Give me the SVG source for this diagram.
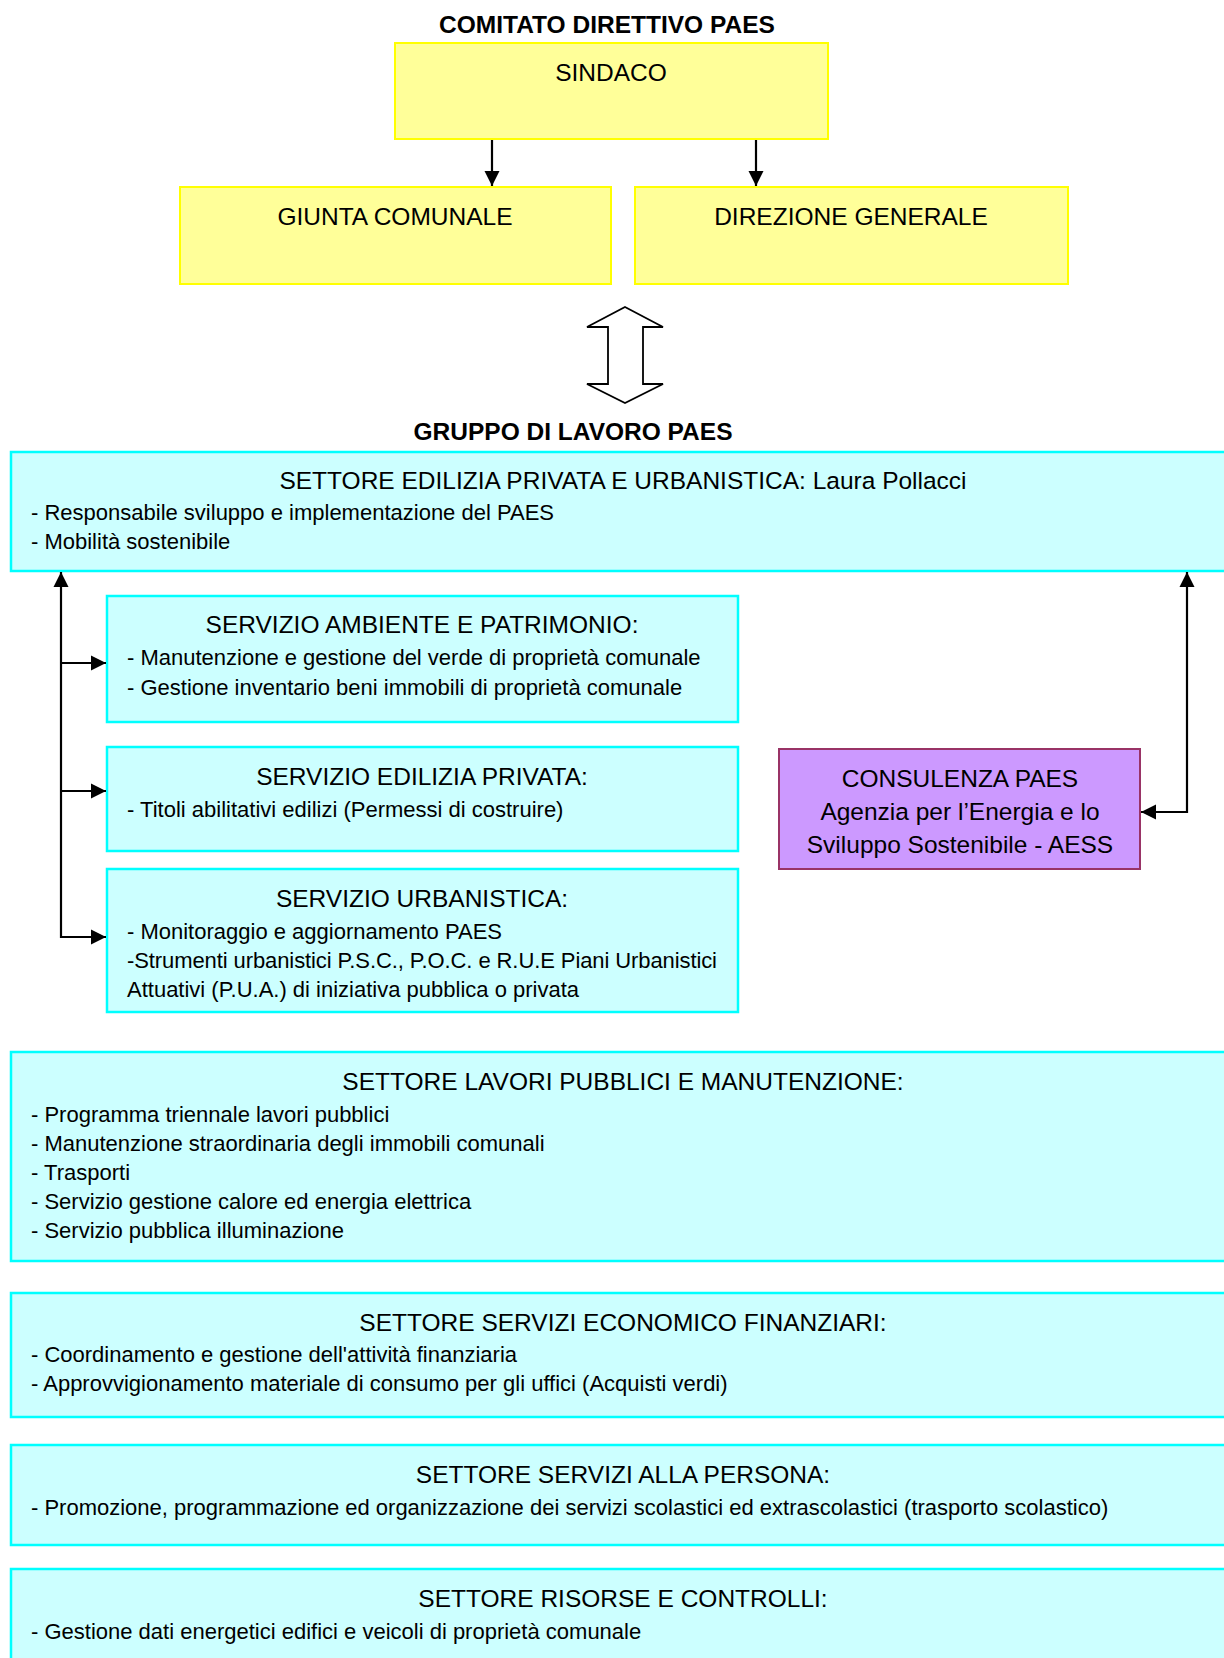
<svg xmlns="http://www.w3.org/2000/svg" width="1224" height="1658" viewBox="0 0 1224 1658">
<style>
text{font-family:"Liberation Sans",Arial,sans-serif;fill:#000}
.h{font-size:24.5px;font-weight:bold;text-anchor:middle}
.t{font-size:24.5px;text-anchor:middle}
.b{font-size:22px}
.y{fill:#FFFF99;stroke:#FFFF00;stroke-width:2}
.c{fill:#CCFFFF;stroke:#00FFFF;stroke-width:2.5}
.p{fill:#CC99FF;stroke:#993366;stroke-width:2}
.ln{fill:none;stroke:#000;stroke-width:2.2}
</style>
<defs>
<marker id="ah" viewBox="0 0 10 10" refX="10" refY="5" markerWidth="7" markerHeight="7" orient="auto-start-reverse" markerUnits="strokeWidth">
<path d="M0,0 L10,5 L0,10 z" fill="#000"/>
</marker>
</defs>
<rect width="1224" height="1658" fill="#fff"/>
<text class="h" x="607" y="33">COMITATO DIRETTIVO PAES</text>
<g id="sindaco"><rect class="y" x="395" y="43" width="433" height="96"/><text class="t" x="611" y="81">SINDACO</text></g>
<g id="giunta"><rect class="y" x="180" y="187" width="431" height="97"/><text class="t" x="395" y="225">GIUNTA COMUNALE</text></g>
<g id="direzione"><rect class="y" x="635" y="187" width="433" height="97"/><text class="t" x="851" y="225">DIREZIONE GENERALE</text></g>
<g id="doppia-freccia"><polygon points="625,307 663,327 643,327 643,384 663,384 625,403 587,384 608,384 608,327 587,327" fill="#fff" stroke="#000" stroke-width="1.8" stroke-linejoin="miter"/></g>
<text class="h" x="573" y="440">GRUPPO DI LAVORO PAES</text>
<g id="settore-edilizia"><rect class="c" x="11" y="452" width="1230" height="119"/>
<text class="t" x="623" y="489">SETTORE EDILIZIA PRIVATA E URBANISTICA: Laura Pollacci</text>
<text class="b" x="31" y="520">- Responsabile sviluppo e implementazione del PAES</text>
<text class="b" x="31" y="549">- Mobilità sostenibile</text></g>
<g id="servizio-ambiente"><rect class="c" x="107" y="596" width="631" height="126"/>
<text class="t" x="422" y="633">SERVIZIO AMBIENTE E PATRIMONIO:</text>
<text class="b" x="127" y="665">- Manutenzione e gestione del verde di proprietà comunale</text>
<text class="b" x="127" y="695">- Gestione inventario beni immobili di proprietà comunale</text></g>
<g id="servizio-edilizia"><rect class="c" x="107" y="747" width="631" height="104"/>
<text class="t" x="422" y="785">SERVIZIO EDILIZIA PRIVATA:</text>
<text class="b" x="127" y="817">- Titoli abilitativi edilizi (Permessi di costruire)</text></g>
<g id="servizio-urbanistica"><rect class="c" x="107" y="869" width="631" height="143"/>
<text class="t" x="422" y="907">SERVIZIO URBANISTICA:</text>
<text class="b" x="127" y="939">- Monitoraggio e aggiornamento PAES</text>
<text class="b" x="127" y="968" textLength="590" lengthAdjust="spacing">-Strumenti urbanistici P.S.C., P.O.C. e R.U.E Piani Urbanistici</text>
<text class="b" x="127" y="997">Attuativi (P.U.A.) di iniziativa pubblica o privata</text></g>
<g id="consulenza"><rect class="p" x="779" y="749" width="361" height="120"/>
<text class="t" x="960" y="787">CONSULENZA PAES</text>
<text class="t" x="960" y="820">Agenzia per l’Energia e lo</text>
<text class="t" x="960" y="853">Sviluppo Sostenibile - AESS</text></g>
<g id="settore-lavori"><rect class="c" x="11" y="1052" width="1230" height="209"/>
<text class="t" x="623" y="1090">SETTORE LAVORI PUBBLICI E MANUTENZIONE:</text>
<text class="b" x="31" y="1122">- Programma triennale lavori pubblici</text>
<text class="b" x="31" y="1151">- Manutenzione straordinaria degli immobili comunali</text>
<text class="b" x="31" y="1180">- Trasporti</text>
<text class="b" x="31" y="1209">- Servizio gestione calore ed energia elettrica</text>
<text class="b" x="31" y="1238">- Servizio pubblica illuminazione</text></g>
<g id="settore-economico"><rect class="c" x="11" y="1293" width="1230" height="124"/>
<text class="t" x="623" y="1331">SETTORE SERVIZI ECONOMICO FINANZIARI:</text>
<text class="b" x="31" y="1362">- Coordinamento e gestione dell'attività finanziaria</text>
<text class="b" x="31" y="1391">- Approvvigionamento materiale di consumo per gli uffici (Acquisti verdi)</text></g>
<g id="settore-persona"><rect class="c" x="11" y="1445" width="1230" height="100"/>
<text class="t" x="623" y="1483">SETTORE SERVIZI ALLA PERSONA:</text>
<text class="b" x="31" y="1515">- Promozione, programmazione ed organizzazione dei servizi scolastici ed extrascolastici (trasporto scolastico)</text></g>
<g id="settore-risorse"><rect class="c" x="11" y="1569" width="1230" height="120"/>
<text class="t" x="623" y="1607">SETTORE RISORSE E CONTROLLI:</text>
<text class="b" x="31" y="1639">- Gestione dati energetici edifici e veicoli di proprietà comunale</text></g>
<g id="connettori">
<line class="ln" x1="492" y1="140" x2="492" y2="186" marker-end="url(#ah)"/>
<line class="ln" x1="756" y1="140" x2="756" y2="186" marker-end="url(#ah)"/>
<polyline class="ln" points="61,572 61,937 106,937" marker-start="url(#ah)" marker-end="url(#ah)"/>
<line class="ln" x1="61" y1="663" x2="106" y2="663" marker-end="url(#ah)"/>
<line class="ln" x1="61" y1="791" x2="106" y2="791" marker-end="url(#ah)"/>
<polyline class="ln" points="1187,572 1187,812 1141,812" marker-start="url(#ah)" marker-end="url(#ah)"/>
</g>
</svg>
